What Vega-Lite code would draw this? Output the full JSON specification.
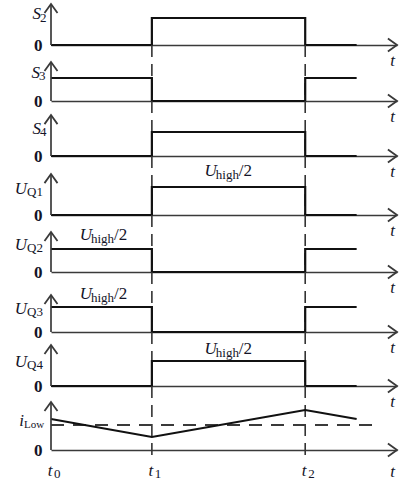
{
  "$schema": "https://vega.github.io/schema/vega-lite/v6.json",
  "padding": {"left": 14, "top": 0, "right": 0, "bottom": 0},
  "spacing": 0,
  "bounds": "flush",
  "config": {"view": {"stroke": null}, "font": "Liberation Serif", "text": {"color": "#141428"}},
  "datasets": {
    "signals": [
      {"sig": "S2", "t": 0, "v": 0}, {"sig": "S2", "t": 1, "v": 1}, {"sig": "S2", "t": 2.52, "v": 0}, {"sig": "S2", "t": 3.03, "v": 0},
      {"sig": "S3", "t": 0, "v": 1}, {"sig": "S3", "t": 1, "v": 0}, {"sig": "S3", "t": 2.52, "v": 1}, {"sig": "S3", "t": 3.03, "v": 1},
      {"sig": "S4", "t": 0, "v": 0}, {"sig": "S4", "t": 1, "v": 1}, {"sig": "S4", "t": 2.52, "v": 0}, {"sig": "S4", "t": 3.03, "v": 0},
      {"sig": "UQ1", "t": 0, "v": 0}, {"sig": "UQ1", "t": 1, "v": 1}, {"sig": "UQ1", "t": 2.52, "v": 0}, {"sig": "UQ1", "t": 3.03, "v": 0},
      {"sig": "UQ2", "t": 0, "v": 1}, {"sig": "UQ2", "t": 1, "v": 0}, {"sig": "UQ2", "t": 2.52, "v": 1}, {"sig": "UQ2", "t": 3.03, "v": 1},
      {"sig": "UQ3", "t": 0, "v": 1}, {"sig": "UQ3", "t": 1, "v": 0}, {"sig": "UQ3", "t": 2.52, "v": 1}, {"sig": "UQ3", "t": 3.03, "v": 1},
      {"sig": "UQ4", "t": 0, "v": 0}, {"sig": "UQ4", "t": 1, "v": 1}, {"sig": "UQ4", "t": 2.52, "v": 0}, {"sig": "UQ4", "t": 3.03, "v": 0},
      {"sig": "iLow", "t": 0, "v": 1.24}, {"sig": "iLow", "t": 1, "v": 0.52}, {"sig": "iLow", "t": 2.52, "v": 1.6}, {"sig": "iLow", "t": 3.03, "v": 1.24}
    ],
    "events": [
      {"t": 0, "sub": "0"}, {"t": 1, "sub": "1"}, {"t": 2.52, "sub": "2"}
    ],
    "iLowAvg": [{"t": 0, "t2": 3.23, "v": 1.0}]
  },
  "vconcat": [
    {
      "width": 346, "height": 43,
      "layer": [
        {"data": {"name": "signals"}, "transform": [{"filter": "datum.sig == 'S2'"}],
         "mark": {"type": "line", "interpolate": "step-after", "stroke": "#111", "strokeWidth": 2.2},
         "encoding": {
           "x": {"field": "t", "type": "quantitative", "scale": {"domain": [0, 3.43], "nice": false, "zero": false}, "axis": {"domain": true, "domainColor": "#3a3a3a", "domainWidth": 1.7, "ticks": false, "labels": false, "grid": false, "title": null}},
           "y": {"field": "v", "type": "quantitative", "scale": {"domain": [0, 1.593], "nice": false}, "axis": {"domain": false, "ticks": false, "tickSize": 0, "grid": false, "title": null, "values": [0], "labelFont": "Liberation Serif", "labelFontSize": 17, "labelFontWeight": "bold", "labelColor": "#141428", "labelPadding": 9, "labelBaseline": "middle"}}
         }},
        {"data": {"values": [{"main": "S", "sub": "2"}]},
         "layer": [
           {"mark": {"type": "rule", "stroke": "#3a3a3a", "strokeWidth": 1.7}, "encoding": {"x": {"datum": 0}, "y": {"datum": 0}, "y2": {"datum": 1.519}}},
           {"mark": {"type": "point", "shape": "M-1,1.4L0,0L1,1.4", "size": 169, "filled": false, "stroke": "#3a3a3a", "strokeWidth": 1.8, "opacity": 1}, "encoding": {"x": {"datum": 0}, "y": {"datum": 1.519}}},
           {"mark": {"type": "point", "shape": "M-1.4,-1L0,0L-1.4,1", "size": 169, "filled": false, "stroke": "#3a3a3a", "strokeWidth": 1.8, "opacity": 1}, "encoding": {"x": {"datum": 3.43}, "y": {"datum": 0}}},
           {"mark": {"type": "text", "align": "right", "baseline": "alphabetic", "dx": -10, "dy": -26, "fontSize": 17, "fontStyle": "italic"}, "encoding": {"x": {"datum": 0}, "y": {"datum": 0}, "text": {"field": "main"}}},
           {"mark": {"type": "text", "align": "left", "baseline": "alphabetic", "dx": -11, "dy": -23, "fontSize": 13}, "encoding": {"x": {"datum": 0}, "y": {"datum": 0}, "text": {"field": "sub"}}},
           {"mark": {"type": "text", "align": "center", "baseline": "alphabetic", "dx": -4.5, "dy": 21, "fontSize": 17, "fontStyle": "italic", "text": "t"}, "encoding": {"x": {"datum": 3.43}, "y": {"datum": 0}}}
         ]}
      ]
    },
    {
      "width": 346, "height": 56,
      "layer": [
        {"data": {"name": "events"}, "transform": [{"filter": "datum.t > 0"}],
         "mark": {"type": "rule", "stroke": "#333", "strokeWidth": 1.6, "strokeDash": [12, 7]},
         "encoding": {"x": {"field": "t", "type": "quantitative"}}},
        {"data": {"name": "signals"}, "transform": [{"filter": "datum.sig == 'S3'"}],
         "mark": {"type": "line", "interpolate": "step-after", "stroke": "#111", "strokeWidth": 2.2},
         "encoding": {
           "x": {"field": "t", "type": "quantitative", "scale": {"domain": [0, 3.43], "nice": false, "zero": false}, "axis": {"domain": true, "domainColor": "#3a3a3a", "domainWidth": 1.7, "ticks": false, "labels": false, "grid": false, "title": null}},
           "y": {"field": "v", "type": "quantitative", "scale": {"domain": [0, 2.435], "nice": false}, "axis": {"domain": false, "ticks": false, "tickSize": 0, "grid": false, "title": null, "values": [0], "labelFont": "Liberation Serif", "labelFontSize": 17, "labelFontWeight": "bold", "labelColor": "#141428", "labelPadding": 9, "labelBaseline": "middle"}}
         }},
        {"data": {"values": [{"main": "S", "sub": "3"}]},
         "layer": [
           {"mark": {"type": "rule", "stroke": "#3a3a3a", "strokeWidth": 1.7}, "encoding": {"x": {"datum": 0}, "y": {"datum": 0}, "y2": {"datum": 1.696}}},
           {"mark": {"type": "point", "shape": "M-1,1.4L0,0L1,1.4", "size": 169, "filled": false, "stroke": "#3a3a3a", "strokeWidth": 1.8, "opacity": 1}, "encoding": {"x": {"datum": 0}, "y": {"datum": 1.696}}},
           {"mark": {"type": "point", "shape": "M-1.4,-1L0,0L-1.4,1", "size": 169, "filled": false, "stroke": "#3a3a3a", "strokeWidth": 1.8, "opacity": 1}, "encoding": {"x": {"datum": 3.43}, "y": {"datum": 0}}},
           {"mark": {"type": "text", "align": "right", "baseline": "alphabetic", "dx": -11, "dy": -23, "fontSize": 17, "fontStyle": "italic"}, "encoding": {"x": {"datum": 0}, "y": {"datum": 0}, "text": {"field": "main"}}},
           {"mark": {"type": "text", "align": "left", "baseline": "alphabetic", "dx": -12, "dy": -21, "fontSize": 13}, "encoding": {"x": {"datum": 0}, "y": {"datum": 0}, "text": {"field": "sub"}}},
           {"mark": {"type": "text", "align": "center", "baseline": "alphabetic", "dx": -4.5, "dy": 21, "fontSize": 17, "fontStyle": "italic", "text": "t"}, "encoding": {"x": {"datum": 3.43}, "y": {"datum": 0}}}
         ]}
      ]
    },
    {
      "width": 346, "height": 55,
      "layer": [
        {"data": {"name": "events"}, "transform": [{"filter": "datum.t > 0"}],
         "mark": {"type": "rule", "stroke": "#333", "strokeWidth": 1.6, "strokeDash": [12, 7]},
         "encoding": {"x": {"field": "t", "type": "quantitative"}}},
        {"data": {"name": "signals"}, "transform": [{"filter": "datum.sig == 'S4'"}],
         "mark": {"type": "line", "interpolate": "step-after", "stroke": "#111", "strokeWidth": 2.2},
         "encoding": {
           "x": {"field": "t", "type": "quantitative", "scale": {"domain": [0, 3.43], "nice": false, "zero": false}, "axis": {"domain": true, "domainColor": "#3a3a3a", "domainWidth": 1.7, "ticks": false, "labels": false, "grid": false, "title": null}},
           "y": {"field": "v", "type": "quantitative", "scale": {"domain": [0, 2.292], "nice": false}, "axis": {"domain": false, "ticks": false, "tickSize": 0, "grid": false, "title": null, "values": [0], "labelFont": "Liberation Serif", "labelFontSize": 17, "labelFontWeight": "bold", "labelColor": "#141428", "labelPadding": 9, "labelBaseline": "middle"}}
         }},
        {"data": {"values": [{"main": "S", "sub": "4"}]},
         "layer": [
           {"mark": {"type": "rule", "stroke": "#3a3a3a", "strokeWidth": 1.7}, "encoding": {"x": {"datum": 0}, "y": {"datum": 0}, "y2": {"datum": 1.708}}},
           {"mark": {"type": "point", "shape": "M-1,1.4L0,0L1,1.4", "size": 169, "filled": false, "stroke": "#3a3a3a", "strokeWidth": 1.8, "opacity": 1}, "encoding": {"x": {"datum": 0}, "y": {"datum": 1.708}}},
           {"mark": {"type": "point", "shape": "M-1.4,-1L0,0L-1.4,1", "size": 169, "filled": false, "stroke": "#3a3a3a", "strokeWidth": 1.8, "opacity": 1}, "encoding": {"x": {"datum": 3.43}, "y": {"datum": 0}}},
           {"mark": {"type": "text", "align": "right", "baseline": "alphabetic", "dx": -10, "dy": -22, "fontSize": 17, "fontStyle": "italic"}, "encoding": {"x": {"datum": 0}, "y": {"datum": 0}, "text": {"field": "main"}}},
           {"mark": {"type": "text", "align": "left", "baseline": "alphabetic", "dx": -11, "dy": -20, "fontSize": 13}, "encoding": {"x": {"datum": 0}, "y": {"datum": 0}, "text": {"field": "sub"}}},
           {"mark": {"type": "text", "align": "center", "baseline": "alphabetic", "dx": -4.5, "dy": 21, "fontSize": 17, "fontStyle": "italic", "text": "t"}, "encoding": {"x": {"datum": 3.43}, "y": {"datum": 0}}}
         ]}
      ]
    },
    {
      "width": 346, "height": 59,
      "layer": [
        {"data": {"name": "events"}, "transform": [{"filter": "datum.t > 0"}],
         "mark": {"type": "rule", "stroke": "#333", "strokeWidth": 1.6, "strokeDash": [12, 7]},
         "encoding": {"x": {"field": "t", "type": "quantitative"}}},
        {"data": {"name": "signals"}, "transform": [{"filter": "datum.sig == 'UQ1'"}],
         "mark": {"type": "line", "interpolate": "step-after", "stroke": "#111", "strokeWidth": 2.2},
         "encoding": {
           "x": {"field": "t", "type": "quantitative", "scale": {"domain": [0, 3.43], "nice": false, "zero": false}, "axis": {"domain": true, "domainColor": "#3a3a3a", "domainWidth": 1.7, "ticks": false, "labels": false, "grid": false, "title": null}},
           "y": {"field": "v", "type": "quantitative", "scale": {"domain": [0, 2.107], "nice": false}, "axis": {"domain": false, "ticks": false, "tickSize": 0, "grid": false, "title": null, "values": [0], "labelFont": "Liberation Serif", "labelFontSize": 17, "labelFontWeight": "bold", "labelColor": "#141428", "labelPadding": 9, "labelBaseline": "middle"}}
         }},
        {"data": {"values": [{"main": "U", "sub": "Q1", "lvl": "high", "frac": "/2"}]},
         "layer": [
           {"mark": {"type": "rule", "stroke": "#3a3a3a", "strokeWidth": 1.7}, "encoding": {"x": {"datum": 0}, "y": {"datum": 0}, "y2": {"datum": 1.464}}},
           {"mark": {"type": "point", "shape": "M-1,1.4L0,0L1,1.4", "size": 169, "filled": false, "stroke": "#3a3a3a", "strokeWidth": 1.8, "opacity": 1}, "encoding": {"x": {"datum": 0}, "y": {"datum": 1.464}}},
           {"mark": {"type": "point", "shape": "M-1.4,-1L0,0L-1.4,1", "size": 169, "filled": false, "stroke": "#3a3a3a", "strokeWidth": 1.8, "opacity": 1}, "encoding": {"x": {"datum": 3.43}, "y": {"datum": 0}}},
           {"mark": {"type": "text", "align": "right", "baseline": "alphabetic", "dx": -24, "dy": -21, "fontSize": 17, "fontStyle": "italic"}, "encoding": {"x": {"datum": 0}, "y": {"datum": 0}, "text": {"field": "main"}}},
           {"mark": {"type": "text", "align": "left", "baseline": "alphabetic", "dx": -24, "dy": -19, "fontSize": 13}, "encoding": {"x": {"datum": 0}, "y": {"datum": 0}, "text": {"field": "sub"}}},
           {"mark": {"type": "text", "align": "right", "baseline": "alphabetic", "dx": 1, "dy": -11, "fontSize": 17, "fontStyle": "italic"}, "encoding": {"x": {"datum": 1.634}, "y": {"datum": 1}, "text": {"field": "main"}}},
           {"mark": {"type": "text", "align": "left", "baseline": "alphabetic", "dx": 0, "dy": -8, "fontSize": 13}, "encoding": {"x": {"datum": 1.634}, "y": {"datum": 1}, "text": {"field": "lvl"}}},
           {"mark": {"type": "text", "align": "left", "baseline": "alphabetic", "dx": 23, "dy": -11, "fontSize": 17}, "encoding": {"x": {"datum": 1.634}, "y": {"datum": 1}, "text": {"field": "frac"}}},
           {"mark": {"type": "text", "align": "center", "baseline": "alphabetic", "dx": -4.5, "dy": 21, "fontSize": 17, "fontStyle": "italic", "text": "t"}, "encoding": {"x": {"datum": 3.43}, "y": {"datum": 0}}}
         ]}
      ]
    },
    {
      "width": 346, "height": 57,
      "layer": [
        {"data": {"name": "events"}, "transform": [{"filter": "datum.t > 0"}],
         "mark": {"type": "rule", "stroke": "#333", "strokeWidth": 1.6, "strokeDash": [12, 7]},
         "encoding": {"x": {"field": "t", "type": "quantitative"}}},
        {"data": {"name": "signals"}, "transform": [{"filter": "datum.sig == 'UQ2'"}],
         "mark": {"type": "line", "interpolate": "step-after", "stroke": "#111", "strokeWidth": 2.2},
         "encoding": {
           "x": {"field": "t", "type": "quantitative", "scale": {"domain": [0, 3.43], "nice": false, "zero": false}, "axis": {"domain": true, "domainColor": "#3a3a3a", "domainWidth": 1.7, "ticks": false, "labels": false, "grid": false, "title": null}},
           "y": {"field": "v", "type": "quantitative", "scale": {"domain": [0, 2.478], "nice": false}, "axis": {"domain": false, "ticks": false, "tickSize": 0, "grid": false, "title": null, "values": [0], "labelFont": "Liberation Serif", "labelFontSize": 17, "labelFontWeight": "bold", "labelColor": "#141428", "labelPadding": 9, "labelBaseline": "middle"}}
         }},
        {"data": {"values": [{"main": "U", "sub": "Q2", "lvl": "high", "frac": "/2"}]},
         "layer": [
           {"mark": {"type": "rule", "stroke": "#3a3a3a", "strokeWidth": 1.7}, "encoding": {"x": {"datum": 0}, "y": {"datum": 0}, "y2": {"datum": 1.739}}},
           {"mark": {"type": "point", "shape": "M-1,1.4L0,0L1,1.4", "size": 169, "filled": false, "stroke": "#3a3a3a", "strokeWidth": 1.8, "opacity": 1}, "encoding": {"x": {"datum": 0}, "y": {"datum": 1.739}}},
           {"mark": {"type": "point", "shape": "M-1.4,-1L0,0L-1.4,1", "size": 169, "filled": false, "stroke": "#3a3a3a", "strokeWidth": 1.8, "opacity": 1}, "encoding": {"x": {"datum": 3.43}, "y": {"datum": 0}}},
           {"mark": {"type": "text", "align": "right", "baseline": "alphabetic", "dx": -24, "dy": -22, "fontSize": 17, "fontStyle": "italic"}, "encoding": {"x": {"datum": 0}, "y": {"datum": 0}, "text": {"field": "main"}}},
           {"mark": {"type": "text", "align": "left", "baseline": "alphabetic", "dx": -24, "dy": -20, "fontSize": 13}, "encoding": {"x": {"datum": 0}, "y": {"datum": 0}, "text": {"field": "sub"}}},
           {"mark": {"type": "text", "align": "right", "baseline": "alphabetic", "dx": 1, "dy": -9, "fontSize": 17, "fontStyle": "italic"}, "encoding": {"x": {"datum": 0.396}, "y": {"datum": 1}, "text": {"field": "main"}}},
           {"mark": {"type": "text", "align": "left", "baseline": "alphabetic", "dx": 0, "dy": -6, "fontSize": 13}, "encoding": {"x": {"datum": 0.396}, "y": {"datum": 1}, "text": {"field": "lvl"}}},
           {"mark": {"type": "text", "align": "left", "baseline": "alphabetic", "dx": 23, "dy": -9, "fontSize": 17}, "encoding": {"x": {"datum": 0.396}, "y": {"datum": 1}, "text": {"field": "frac"}}},
           {"mark": {"type": "text", "align": "center", "baseline": "alphabetic", "dx": -4.5, "dy": 21, "fontSize": 17, "fontStyle": "italic", "text": "t"}, "encoding": {"x": {"datum": 3.43}, "y": {"datum": 0}}}
         ]}
      ]
    },
    {
      "width": 346, "height": 60,
      "layer": [
        {"data": {"name": "events"}, "transform": [{"filter": "datum.t > 0"}],
         "mark": {"type": "rule", "stroke": "#333", "strokeWidth": 1.6, "strokeDash": [12, 7]},
         "encoding": {"x": {"field": "t", "type": "quantitative"}}},
        {"data": {"name": "signals"}, "transform": [{"filter": "datum.sig == 'UQ3'"}],
         "mark": {"type": "line", "interpolate": "step-after", "stroke": "#111", "strokeWidth": 2.2},
         "encoding": {
           "x": {"field": "t", "type": "quantitative", "scale": {"domain": [0, 3.43], "nice": false, "zero": false}, "axis": {"domain": true, "domainColor": "#3a3a3a", "domainWidth": 1.7, "ticks": false, "labels": false, "grid": false, "title": null}},
           "y": {"field": "v", "type": "quantitative", "scale": {"domain": [0, 2.4], "nice": false}, "axis": {"domain": false, "ticks": false, "tickSize": 0, "grid": false, "title": null, "values": [0], "labelFont": "Liberation Serif", "labelFontSize": 17, "labelFontWeight": "bold", "labelColor": "#141428", "labelPadding": 9, "labelBaseline": "middle"}}
         }},
        {"data": {"values": [{"main": "U", "sub": "Q3", "lvl": "high", "frac": "/2"}]},
         "layer": [
           {"mark": {"type": "rule", "stroke": "#3a3a3a", "strokeWidth": 1.7}, "encoding": {"x": {"datum": 0}, "y": {"datum": 0}, "y2": {"datum": 1.48}}},
           {"mark": {"type": "point", "shape": "M-1,1.4L0,0L1,1.4", "size": 169, "filled": false, "stroke": "#3a3a3a", "strokeWidth": 1.8, "opacity": 1}, "encoding": {"x": {"datum": 0}, "y": {"datum": 1.48}}},
           {"mark": {"type": "point", "shape": "M-1.4,-1L0,0L-1.4,1", "size": 169, "filled": false, "stroke": "#3a3a3a", "strokeWidth": 1.8, "opacity": 1}, "encoding": {"x": {"datum": 3.43}, "y": {"datum": 0}}},
           {"mark": {"type": "text", "align": "right", "baseline": "alphabetic", "dx": -24, "dy": -18, "fontSize": 17, "fontStyle": "italic"}, "encoding": {"x": {"datum": 0}, "y": {"datum": 0}, "text": {"field": "main"}}},
           {"mark": {"type": "text", "align": "left", "baseline": "alphabetic", "dx": -24, "dy": -16, "fontSize": 13}, "encoding": {"x": {"datum": 0}, "y": {"datum": 0}, "text": {"field": "sub"}}},
           {"mark": {"type": "text", "align": "right", "baseline": "alphabetic", "dx": 1, "dy": -8, "fontSize": 17, "fontStyle": "italic"}, "encoding": {"x": {"datum": 0.396}, "y": {"datum": 1}, "text": {"field": "main"}}},
           {"mark": {"type": "text", "align": "left", "baseline": "alphabetic", "dx": 0, "dy": -5, "fontSize": 13}, "encoding": {"x": {"datum": 0.396}, "y": {"datum": 1}, "text": {"field": "lvl"}}},
           {"mark": {"type": "text", "align": "left", "baseline": "alphabetic", "dx": 23, "dy": -8, "fontSize": 17}, "encoding": {"x": {"datum": 0.396}, "y": {"datum": 1}, "text": {"field": "frac"}}},
           {"mark": {"type": "text", "align": "center", "baseline": "alphabetic", "dx": -4.5, "dy": 21, "fontSize": 17, "fontStyle": "italic", "text": "t"}, "encoding": {"x": {"datum": 3.43}, "y": {"datum": 0}}}
         ]}
      ]
    },
    {
      "width": 346, "height": 54,
      "layer": [
        {"data": {"name": "events"}, "transform": [{"filter": "datum.t > 0"}],
         "mark": {"type": "rule", "stroke": "#333", "strokeWidth": 1.6, "strokeDash": [12, 7]},
         "encoding": {"x": {"field": "t", "type": "quantitative"}}},
        {"data": {"name": "signals"}, "transform": [{"filter": "datum.sig == 'UQ4'"}],
         "mark": {"type": "line", "interpolate": "step-after", "stroke": "#111", "strokeWidth": 2.2},
         "encoding": {
           "x": {"field": "t", "type": "quantitative", "scale": {"domain": [0, 3.43], "nice": false, "zero": false}, "axis": {"domain": true, "domainColor": "#3a3a3a", "domainWidth": 1.7, "ticks": false, "labels": false, "grid": false, "title": null}},
           "y": {"field": "v", "type": "quantitative", "scale": {"domain": [0, 2.16], "nice": false}, "axis": {"domain": false, "ticks": false, "tickSize": 0, "grid": false, "title": null, "values": [0], "labelFont": "Liberation Serif", "labelFontSize": 17, "labelFontWeight": "bold", "labelColor": "#141428", "labelPadding": 9, "labelBaseline": "middle"}}
         }},
        {"data": {"values": [{"main": "U", "sub": "Q4", "lvl": "high", "frac": "/2"}]},
         "layer": [
           {"mark": {"type": "rule", "stroke": "#3a3a3a", "strokeWidth": 1.7}, "encoding": {"x": {"datum": 0}, "y": {"datum": 0}, "y2": {"datum": 1.64}}},
           {"mark": {"type": "point", "shape": "M-1,1.4L0,0L1,1.4", "size": 169, "filled": false, "stroke": "#3a3a3a", "strokeWidth": 1.8, "opacity": 1}, "encoding": {"x": {"datum": 0}, "y": {"datum": 1.64}}},
           {"mark": {"type": "point", "shape": "M-1.4,-1L0,0L-1.4,1", "size": 169, "filled": false, "stroke": "#3a3a3a", "strokeWidth": 1.8, "opacity": 1}, "encoding": {"x": {"datum": 3.43}, "y": {"datum": 0}}},
           {"mark": {"type": "text", "align": "right", "baseline": "alphabetic", "dx": -24, "dy": -19, "fontSize": 17, "fontStyle": "italic"}, "encoding": {"x": {"datum": 0}, "y": {"datum": 0}, "text": {"field": "main"}}},
           {"mark": {"type": "text", "align": "left", "baseline": "alphabetic", "dx": -24, "dy": -17, "fontSize": 13}, "encoding": {"x": {"datum": 0}, "y": {"datum": 0}, "text": {"field": "sub"}}},
           {"mark": {"type": "text", "align": "right", "baseline": "alphabetic", "dx": 1, "dy": -7, "fontSize": 17, "fontStyle": "italic"}, "encoding": {"x": {"datum": 1.634}, "y": {"datum": 1}, "text": {"field": "main"}}},
           {"mark": {"type": "text", "align": "left", "baseline": "alphabetic", "dx": 0, "dy": -4, "fontSize": 13}, "encoding": {"x": {"datum": 1.634}, "y": {"datum": 1}, "text": {"field": "lvl"}}},
           {"mark": {"type": "text", "align": "left", "baseline": "alphabetic", "dx": 23, "dy": -7, "fontSize": 17}, "encoding": {"x": {"datum": 1.634}, "y": {"datum": 1}, "text": {"field": "frac"}}},
           {"mark": {"type": "text", "align": "center", "baseline": "alphabetic", "dx": -4.5, "dy": 21, "fontSize": 17, "fontStyle": "italic", "text": "t"}, "encoding": {"x": {"datum": 3.43}, "y": {"datum": 0}}}
         ]}
      ]
    },
    {
      "width": 346, "height": 64,
      "layer": [
        {"data": {"name": "events"}, "transform": [{"filter": "datum.t > 0"}],
         "mark": {"type": "rule", "stroke": "#333", "strokeWidth": 1.6, "strokeDash": [12, 7]},
         "encoding": {"x": {"field": "t", "type": "quantitative"}, "y": {"datum": 2.56}, "y2": {"datum": -0.24}}},
        {"data": {"name": "iLowAvg"},
         "mark": {"type": "rule", "stroke": "#3a3a3a", "strokeWidth": 1.9, "strokeDash": [13, 9]},
         "encoding": {"x": {"field": "t", "type": "quantitative"}, "x2": {"field": "t2"}, "y": {"field": "v", "type": "quantitative"}}},
        {"data": {"name": "signals"}, "transform": [{"filter": "datum.sig == 'iLow'"}],
         "mark": {"type": "line", "stroke": "#111", "strokeWidth": 2.2},
         "encoding": {
           "x": {"field": "t", "type": "quantitative", "scale": {"domain": [0, 3.43], "nice": false, "zero": false}, "axis": {"domain": true, "domainColor": "#3a3a3a", "domainWidth": 1.7, "ticks": false, "labels": false, "grid": false, "title": null}},
           "y": {"field": "v", "type": "quantitative", "scale": {"domain": [0, 2.56], "nice": false}, "axis": {"domain": false, "ticks": false, "tickSize": 0, "grid": false, "title": null, "values": [0], "labelFont": "Liberation Serif", "labelFontSize": 17, "labelFontWeight": "bold", "labelColor": "#141428", "labelPadding": 9, "labelBaseline": "middle"}}
         }},
        {"data": {"name": "events"},
         "layer": [
           {"mark": {"type": "text", "align": "center", "baseline": "alphabetic", "dx": -1, "dy": 26, "fontSize": 17, "fontStyle": "italic", "text": "t"}, "encoding": {"x": {"field": "t", "type": "quantitative"}, "y": {"datum": 0}}},
           {"mark": {"type": "text", "align": "left", "baseline": "alphabetic", "dx": 3, "dy": 28, "fontSize": 13}, "encoding": {"x": {"field": "t", "type": "quantitative"}, "y": {"datum": 0}, "text": {"field": "sub"}}}
         ]},
        {"data": {"values": [{"main": "i", "sub": "Low"}]},
         "layer": [
           {"mark": {"type": "rule", "stroke": "#3a3a3a", "strokeWidth": 1.7}, "encoding": {"x": {"datum": 0}, "y": {"datum": 0}, "y2": {"datum": 1.92}}},
           {"mark": {"type": "point", "shape": "M-1,1.4L0,0L1,1.4", "size": 169, "filled": false, "stroke": "#3a3a3a", "strokeWidth": 1.8, "opacity": 1}, "encoding": {"x": {"datum": 0}, "y": {"datum": 1.92}}},
           {"mark": {"type": "point", "shape": "M-1.4,-1L0,0L-1.4,1", "size": 169, "filled": false, "stroke": "#3a3a3a", "strokeWidth": 1.8, "opacity": 1}, "encoding": {"x": {"datum": 3.43}, "y": {"datum": 0}}},
           {"mark": {"type": "text", "align": "right", "baseline": "alphabetic", "dx": -27, "dy": -24, "fontSize": 17, "fontStyle": "italic"}, "encoding": {"x": {"datum": 0}, "y": {"datum": 0}, "text": {"field": "main"}}},
           {"mark": {"type": "text", "align": "left", "baseline": "alphabetic", "dx": -27, "dy": -22, "fontSize": 11}, "encoding": {"x": {"datum": 0}, "y": {"datum": 0}, "text": {"field": "sub"}}},
           {"mark": {"type": "text", "align": "center", "baseline": "alphabetic", "dx": -4.5, "dy": 27, "fontSize": 17, "fontStyle": "italic", "text": "t"}, "encoding": {"x": {"datum": 3.43}, "y": {"datum": 0}}}
         ]}
      ]
    }
  ]
}
